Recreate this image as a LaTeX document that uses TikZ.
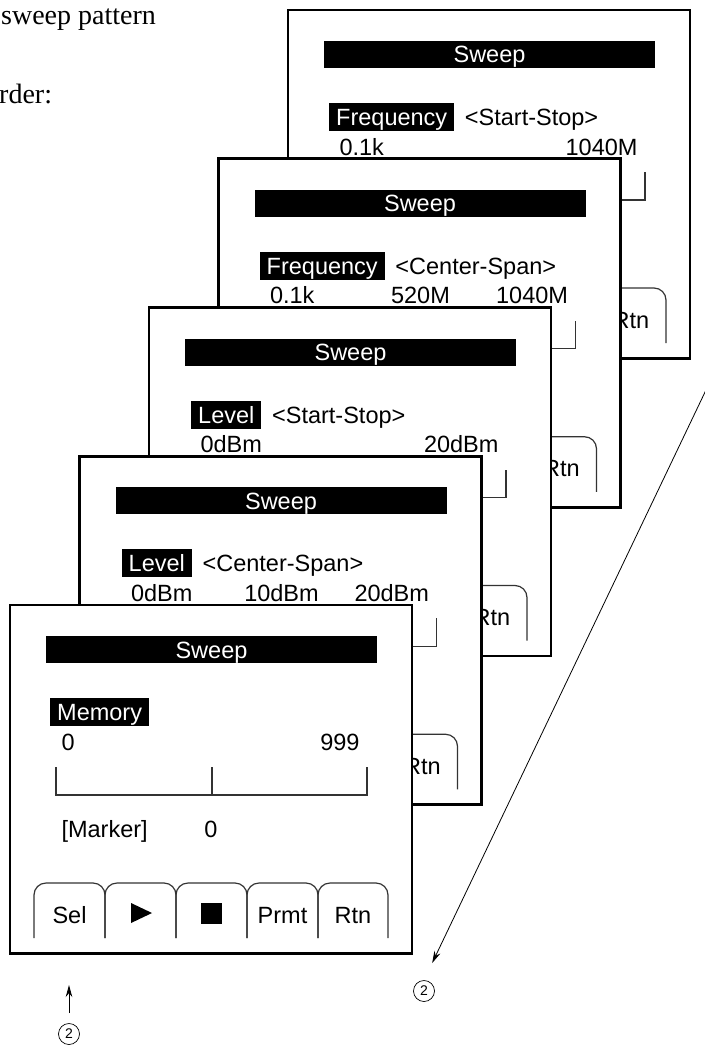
\documentclass[tikz,border=0pt]{standalone}
\usepackage{fontspec}
\setmainfont{Liberation Serif}
\setsansfont{Liberation Sans}
\usetikzlibrary{positioning,arrows.meta}

\tikzset{
  marco/.style={line width=2.6pt, fill=white},
  barra/.style={fill=black, text=white, minimum width=331pt, minimum height=27pt,
                inner sep=0pt, text height=17pt, text depth=0pt},
  resalte/.style={fill=black, text=white, minimum height=28pt, inner xsep=7pt,
                  inner ysep=0pt, text height=17pt, text depth=0pt, anchor=west},
  escala/.style={line width=1.2pt, black!80},
  tecla/.style={line width=1.2pt, black!80, rounded corners=12pt},
  llamada/.style={draw, circle, minimum size=21pt, inner sep=0pt, line width=0.7pt,
                  font=\sffamily\fontsize{14}{14}\selectfont},
}

% Marco comun de cada pantalla
\newcommand{\pantalla}[1]{%
  \draw[marco] (0,0) rectangle (402,348.5);
  \node[barra] (#1t) at (201.5,44.5) {Sweep};
  \draw[escala] (46,162) -- (46,190) -- (357,190) -- (357,162);
  \draw[escala] (202,162) -- (202,190);
  \draw[tecla] (24,333) -- (24,278) -- (95,278) -- (95,333);
  \draw[tecla] (95,333) -- (95,278) -- (166,278) -- (166,333);
  \draw[tecla] (166,333) -- (166,278) -- (237,278) -- (237,333);
  \draw[tecla] (237,333) -- (237,278) -- (308,278) -- (308,333);
  \draw[tecla] (308,333) -- (308,278) -- (378,278) -- (378,333);
  \node[anchor=base] (#1r) at (343,318) {Rtn};
}

\begin{document}
\begin{tikzpicture}[x=1pt, y=-1pt, >={Stealth[length=12pt,width=6.5pt]},
    font=\sffamily\fontsize{23.5}{28}\selectfont]
  \useasboundingbox (0,0) rectangle (704,1046);

  % Texto de la pagina
  \node[anchor=base west, inner sep=0pt, font=\rmfamily\fontsize{28}{32}\selectfont]
    (txa) at (1,25) {sweep pattern};
  \node[anchor=base west, inner sep=0pt, font=\rmfamily\fontsize{28}{32}\selectfont]
    (txb) at (-1,103) {rder:};

  % Pantalla 1: Frequency <Start-Stop>
  \begin{scope}[shift={(288,10)}]
    \pantalla{p1}
    \node[resalte] (p1l) at (41,107) {Frequency};
    \node[base right=7pt of p1l] (p1m) {<Start-Stop>};
    \node[anchor=base west] (p1a) at (48,145) {0.1k};
    \node[anchor=base east] (p1c) at (353,145) {1040M};
  \end{scope}

  % Pantalla 2: Frequency <Center-Span>
  \begin{scope}[shift={(218.5,158.75)}]
    \pantalla{p2}
    \node[resalte] (p2l) at (41,107) {Frequency};
    \node[base right=7pt of p2l] (p2m) {<Center-Span>};
    \node[anchor=base west] (p2a) at (48,145) {0.1k};
    \node[anchor=base] (p2b) at (202,145) {520M};
    \node[anchor=base east] (p2c) at (353,145) {1040M};
  \end{scope}

  % Pantalla 3: Level <Start-Stop>
  \begin{scope}[shift={(149,307.5)}]
    \pantalla{p3}
    \node[resalte] (p3l) at (42,107) {Level};
    \node[base right=7pt of p3l] (p3m) {<Start-Stop>};
    \node[anchor=base west] (p3a) at (48,145) {0dBm};
    \node[anchor=base east] (p3c) at (353,145) {20dBm};
  \end{scope}

  % Pantalla 4: Level <Center-Span>
  \begin{scope}[shift={(79.5,456.25)}]
    \pantalla{p4}
    \node[resalte] (p4l) at (42,107) {Level};
    \node[base right=7pt of p4l] (p4m) {<Center-Span>};
    \node[anchor=base west] (p4a) at (48,145) {0dBm};
    \node[anchor=base] (p4b) at (202,145) {10dBm};
    \node[anchor=base east] (p4c) at (353,145) {20dBm};
  \end{scope}

  % Pantalla 5: Memory
  \begin{scope}[shift={(10,605)}]
    \pantalla{p5}
    \node[resalte] (p5l) at (40,107) {Memory};
    \node[anchor=base west] (p5a) at (48,145) {0};
    \node[anchor=base east] (p5c) at (353,145) {999};
    \node[anchor=base west] (p5k) at (48,232) {[Marker]};
    \node[anchor=base] (p5v) at (201,232) {0};
    \node[anchor=base] (p5s) at (59.5,318) {Sel};
    \fill (121,298) -- (142,308) -- (121,318) -- cycle;
    \fill (191,298) rectangle (212,319);
    \node[anchor=base] (p5p) at (272.5,318) {Prmt};
  \end{scope}

  % Llamadas
  \node[llamada] (n2l) at (69,1034) {2};
  \coordinate (sel) at (69,985);
  \draw[->, line width=0.8pt, shorten <=10pt] (n2l) -- (sel);

  \node[llamada] (n2r) at (424,991) {2};
  \coordinate (diag) at (706,390);
  \draw[->, line width=0.8pt, shorten >=19pt] (diag) -- (n2r.north);
\end{tikzpicture}
\end{document}
